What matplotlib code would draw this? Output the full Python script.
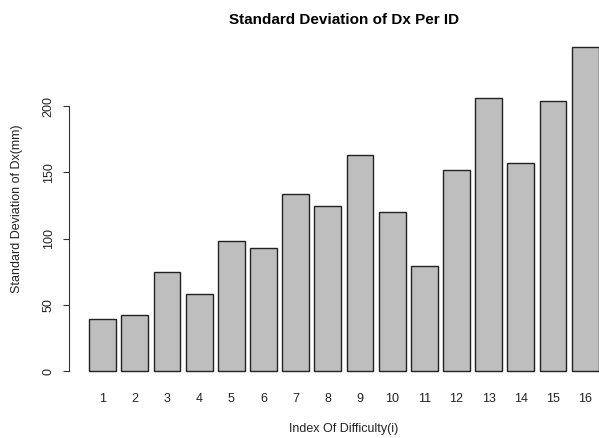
import matplotlib
matplotlib.use("Agg")
import matplotlib.pyplot as plt

plt.rcParams['font.family'] = ['Liberation Sans', 'DejaVu Sans']

ids = [str(i) for i in range(1, 17)]
sd_dx = [39.0, 42.3, 75.0, 57.9, 98.2, 93.2, 133.7, 124.9,
         163.4, 119.9, 79.1, 151.9, 206.5, 156.9, 203.8, 244.8]
y_ticks = [0, 50, 100, 150, 200]

W, H = 599, 438
fig = plt.figure(figsize=(W / 100, H / 100), dpi=100)

# R-style barplot region (right edge runs off the image like the original)
left_px, right_px, top_px, bottom_px = 68.9, 618.9, 34, 384
ax = fig.add_axes([left_px / W, 1 - bottom_px / H,
                   (right_px - left_px) / W, (bottom_px - top_px) / H])

# R barplot positions: width 1, space 0.2
xpos = [0.7 + 1.2 * i for i in range(len(sd_dx))]
ax.bar(xpos, sd_dx, width=1.0, color='#bebebe', edgecolor='#222222', linewidth=1.0)

ax.set_xlim(-0.56, 19.96)
ax.set_ylim(-0.04 * max(sd_dx), max(sd_dx) * 1.04)

for s in ['top', 'right', 'bottom']:
    ax.spines[s].set_visible(False)
ax.spines['left'].set_bounds(0, 200)
ax.spines['left'].set_color('#333333')

ax.set_yticks(y_ticks)
ax.set_yticklabels([str(v) for v in y_ticks], rotation=90, va='center', fontsize=9, color='#222222')
ax.tick_params(axis='y', length=4.3, width=0.8, pad=6, color='#333333')

ax.set_xticks(xpos)
ax.set_xticklabels(ids, fontsize=9, color='#222222')
ax.tick_params(axis='x', length=0, pad=6.5)

ax.set_title('Standard Deviation of Dx Per ID', fontsize=11, fontweight='bold', pad=7.5)

fig.text(17 / W, 1 - 209 / H, 'Standard Deviation of Dx(mm)', rotation=90,
         ha='center', va='center', fontsize=9, color='#222222')
fig.text(343.9 / W, 1 - 429 / H, 'Index Of Difficulty(i)',
         ha='center', va='center', fontsize=9, color='#222222')

fig.savefig('out.png', dpi=100)
